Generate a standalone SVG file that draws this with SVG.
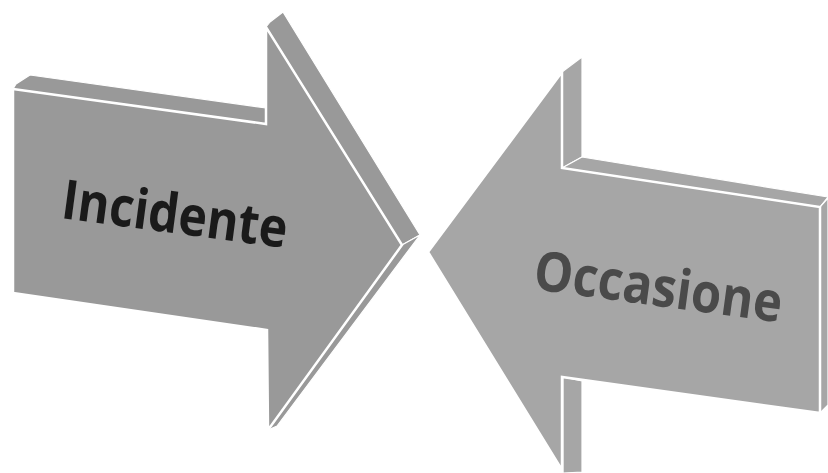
<svg xmlns="http://www.w3.org/2000/svg" width="828" height="473" viewBox="0 0 828 473">
  <style>
    .fl { fill: #999999; }
    .fr { fill: #a6a6a6; }
    .face { stroke: #ffffff; stroke-width: 2.5; stroke-linejoin: miter; }
    .side { stroke: #ffffff; stroke-width: 1.2; stroke-linejoin: round; }
    .lbl { font-family: "Open Sans", "Liberation Sans", sans-serif; font-weight: bold; font-size: 55px; }
  </style>
  <rect width="828" height="473" fill="#ffffff"/>
  <g id="arrow-incidente">
    <polygon class="fl side" points="13,89 16,84 30,75 266,108 266,124"/>
    <polygon class="fl side" points="266,27 270,22 283,12 420,235 402,245"/>
    <polygon class="fl side" points="402,245 420,235 277,426 268,430"/>
    <polygon class="fl face" points="13,89 266,124 266,27 402,245 268,430 267,330 13,293"/>
    <text class="lbl" fill="#1a1a1a" transform="translate(60,218) rotate(7.6)" textLength="227" lengthAdjust="spacingAndGlyphs">Incidente</text>
  </g>
  <g id="arrow-occasione">
    <polygon class="fr side" points="562,72 582,57 582,157 562,168"/>
    <polygon class="fr side" points="562,168 582,157 828,197 820,207"/>
    <polygon class="fr side" points="820,207 828,198 828,405 820,413"/>
    <polygon class="fr side" points="563,377 582,381 582,472 563,473"/>
    <polygon class="fr face" points="428,252 562,72 562,168 820,207 820,413 562,377 562,470"/>
    <text class="lbl" fill="#4a4a4a" transform="translate(532,289) rotate(7.7)" textLength="250" lengthAdjust="spacingAndGlyphs">Occasione</text>
  </g>
</svg>
